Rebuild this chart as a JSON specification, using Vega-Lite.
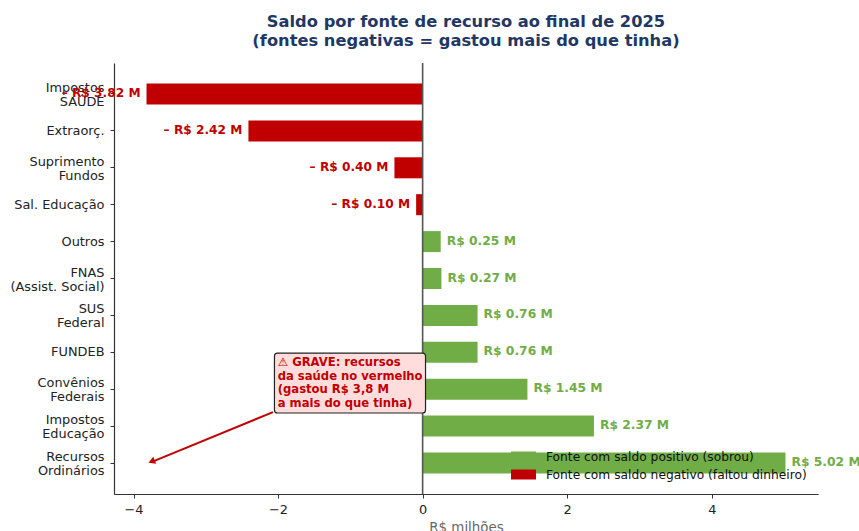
{"$schema":"https://vega.github.io/schema/vega-lite/v6.json","width":704,"height":431,"autosize":{"type":"none"},"padding":{"left":114,"top":63,"right":41,"bottom":37},"background":"white","config":{"font":"DejaVu Sans","view":{"stroke":null}},"title":{"text":["Saldo por fonte de recurso ao final de 2025","(fontes negativas = gastou mais do que tinha)"],"fontSize":16.3,"fontWeight":"bold","color":"#1F3864","anchor":"middle","lineHeight":19,"offset":13,"font":"DejaVu Sans"},"datasets":{"fontes":[{"fonte":"Impostos\nSAÚDE","saldo":-3.82,"tipo":"Fonte com saldo negativo (faltou dinheiro)","rotulo":"– R$ 3.82 M"},{"fonte":"Extraorç.","saldo":-2.41,"tipo":"Fonte com saldo negativo (faltou dinheiro)","rotulo":"– R$ 2.42 M"},{"fonte":"Suprimento\nFundos","saldo":-0.39,"tipo":"Fonte com saldo negativo (faltou dinheiro)","rotulo":"– R$ 0.40 M"},{"fonte":"Sal. Educação","saldo":-0.09,"tipo":"Fonte com saldo negativo (faltou dinheiro)","rotulo":"– R$ 0.10 M"},{"fonte":"Outros","saldo":0.25,"tipo":"Fonte com saldo positivo (sobrou)","rotulo":"R$ 0.25 M"},{"fonte":"FNAS\n(Assist. Social)","saldo":0.26,"tipo":"Fonte com saldo positivo (sobrou)","rotulo":"R$ 0.27 M"},{"fonte":"SUS\nFederal","saldo":0.76,"tipo":"Fonte com saldo positivo (sobrou)","rotulo":"R$ 0.76 M"},{"fonte":"FUNDEB","saldo":0.76,"tipo":"Fonte com saldo positivo (sobrou)","rotulo":"R$ 0.76 M"},{"fonte":"Convênios\nFederais","saldo":1.45,"tipo":"Fonte com saldo positivo (sobrou)","rotulo":"R$ 1.45 M"},{"fonte":"Impostos\nEducação","saldo":2.37,"tipo":"Fonte com saldo positivo (sobrou)","rotulo":"R$ 2.37 M"},{"fonte":"Recursos\nOrdinários","saldo":5.02,"tipo":"Fonte com saldo positivo (sobrou)","rotulo":"R$ 5.02 M"}],"seta":[{"x":-2.07,"y":2.22},{"x":-3.72,"y":0.89}],"ponta":[{"x":-3.75,"y":0.88}],"caixa":[{"x":-2.05,"x2":0.04,"y":3.82,"y2":2.195,"x_t":-2.005,"y_t":3.72,"texto":"⚠ GRAVE: recursos\nda saúde no vermelho\n(gastou R$ 3,8 M\na mais do que tinha)"}],"zero":[{"x":0}]},"layer":[{"layer":[{"data":{"name":"fontes"},"mark":{"type":"bar","strokeWidth":0},"encoding":{"y":{"field":"fonte","type":"nominal","sort":null,"title":null,"scale":{"paddingInner":0.43,"paddingOuter":0.555},"axis":{"labelExpr":"split(datum.label, '\\n')","labelAlign":"right","labelBaseline":"middle","labelFontSize":12.9,"labelColor":"#222222","labelLineHeight":14,"labelLimit":200,"labelPadding":6,"labelOffset":{"condition":{"test":"indexof(datum.value, '\\n') >= 0","value":-6},"value":0},"tickSize":4,"tickColor":"#333333","domainColor":"#333333","domainWidth":1.2,"grid":false}},"x":{"field":"saldo","type":"quantitative","title":"R$ milhões","scale":{"domain":[-4.27,5.47],"nice":false,"zero":false},"axis":{"values":[-4,-2,0,2,4],"format":"d","grid":false,"labelFontSize":12.9,"labelColor":"#222222","tickSize":4,"tickColor":"#333333","domainColor":"#333333","domainWidth":1.2,"titleFontSize":13.4,"titleFontWeight":"normal","titleColor":"#666666","titlePadding":5,"labelPadding":5}},"color":{"field":"tipo","type":"nominal","scale":{"domain":["Fonte com saldo positivo (sobrou)","Fonte com saldo negativo (faltou dinheiro)"],"range":["#70AD47","#C00000"]},"legend":{"title":null,"orient":"none","legendX":403,"legendY":387,"symbolType":"M-2,-0.8H2V0.8H-2Z","symbolSize":156,"symbolStrokeWidth":0,"symbolOpacity":1,"labelFontSize":12.25,"labelColor":"#111111","labelLimit":400,"labelOffset":16,"rowPadding":5}}}},{"data":{"name":"zero"},"mark":{"type":"rule","color":"#555555","strokeWidth":1.6},"encoding":{"x":{"field":"x","type":"quantitative"}}},{"data":{"name":"fontes"},"transform":[{"filter":"datum.saldo < 0"}],"mark":{"type":"text","align":"right","baseline":"middle","dx":-6,"dy":-1,"fontWeight":"bold","fontSize":12.2},"encoding":{"y":{"field":"fonte","type":"nominal","sort":null},"x":{"field":"saldo","type":"quantitative"},"text":{"field":"rotulo"},"color":{"field":"tipo","type":"nominal"}}},{"data":{"name":"fontes"},"transform":[{"filter":"datum.saldo > 0"}],"mark":{"type":"text","align":"left","baseline":"middle","dx":6,"dy":-1,"fontWeight":"bold","fontSize":12.3},"encoding":{"y":{"field":"fonte","type":"nominal","sort":null},"x":{"field":"saldo","type":"quantitative"},"text":{"field":"rotulo"},"color":{"field":"tipo","type":"nominal"}}}]},{"layer":[{"data":{"name":"seta"},"mark":{"type":"line","color":"#C00000","strokeWidth":2},"encoding":{"x":{"field":"x","type":"quantitative"},"y":{"field":"y","type":"quantitative","scale":{"domain":[0,11.68],"nice":false,"zero":false},"axis":null},"order":{"field":"y","sort":"descending"}}},{"data":{"name":"ponta"},"mark":{"type":"point","shape":"triangle-up","filled":true,"color":"#C00000","size":60,"angle":248,"opacity":1},"encoding":{"x":{"field":"x","type":"quantitative"},"y":{"field":"y","type":"quantitative"}}},{"data":{"name":"caixa"},"mark":{"type":"rect","fill":"#FFDDDD","stroke":"#222222","strokeWidth":1.2,"cornerRadius":3},"encoding":{"x":{"field":"x","type":"quantitative"},"x2":{"field":"x2"},"y":{"field":"y","type":"quantitative"},"y2":{"field":"y2"}}},{"data":{"name":"caixa"},"mark":{"type":"text","align":"left","baseline":"top","color":"#C00000","fontWeight":"bold","fontSize":11.6,"lineBreak":"\n","lineHeight":13.8},"encoding":{"x":{"field":"x_t","type":"quantitative"},"y":{"field":"y_t","type":"quantitative"},"text":{"field":"texto"}}}]}],"resolve":{"scale":{"y":"independent"}}}
